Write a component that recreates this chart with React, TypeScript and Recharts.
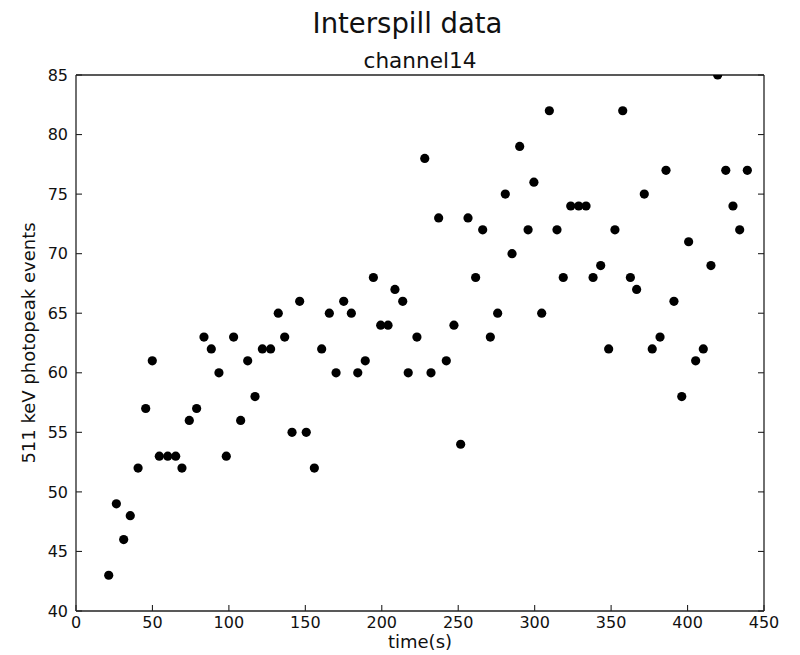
import React from 'react';
import { ScatterChart, Scatter, XAxis, YAxis } from 'recharts';

// Elapsed time of each interspill sample (s)
const timeSeconds = [
  21.4, 26.4, 31.2, 35.5, 40.6, 45.6, 49.9, 54.5, 60.0, 65.2,
  69.3, 74.1, 78.9, 83.7, 88.5, 93.5, 98.3, 103.1, 107.7, 112.3,
  117.1, 121.9, 127.3, 132.3, 136.5, 141.3, 146.3, 150.6, 155.9, 160.7,
  165.7, 170.1, 175.1, 180.1, 184.3, 189.2, 194.5, 199.3, 204.1, 208.6,
  213.7, 217.3, 223.0, 228.1, 232.2, 237.2, 242.2, 247.2, 251.6, 256.4,
  261.4, 266.0, 271.0, 275.8, 280.8, 285.2, 290.2, 295.7, 299.5, 304.6,
  309.6, 314.6, 318.7, 323.6, 328.8, 333.6, 338.2, 343.2, 348.4, 352.5,
  357.6, 362.6, 366.7, 371.7, 376.9, 382.0, 385.9, 391.1, 396.2, 400.7,
  405.3, 410.3, 415.3, 419.7, 425.0, 429.7, 434.1, 439.1,
];

// 511 keV photopeak counts, channel 14
const photopeakEvents = [
  43, 49, 46, 48, 52, 57, 61, 53, 53, 53,
  52, 56, 57, 63, 62, 60, 53, 63, 56, 61,
  58, 62, 62, 65, 63, 55, 66, 55, 52, 62,
  65, 60, 66, 65, 60, 61, 68, 64, 64, 67,
  66, 60, 63, 78, 60, 73, 61, 64, 54, 73,
  68, 72, 63, 65, 75, 70, 79, 72, 76, 65,
  82, 72, 68, 74, 74, 74, 68, 69, 62, 72,
  82, 68, 67, 75, 62, 63, 77, 66, 58, 71,
  61, 62, 69, 85, 77, 74, 72, 77,
];

const xTicks = [0, 50, 100, 150, 200, 250, 300, 350, 400, 450];
const yTicks = [40, 45, 50, 55, 60, 65, 70, 75, 80, 85];

const points = timeSeconds.map((t, i) => ({ t, n: photopeakEvents[i] }));

const FONT = 'DejaVu Sans';
const INK = '#111';
const FRAME = '#222';
const TICK_LEN = 6;
const X_LABEL_GAP = 6;
const Y_LABEL_GAP = 8;

const frameLine = { stroke: FRAME, strokeWidth: 1.3 };

// Inward-pointing tick marks, drawn together with their labels
const BottomTick = (props: any) => {
  const { x, y, payload } = props;
  const axisY = y - X_LABEL_GAP;
  return (
    <g>
      <line x1={x} y1={axisY} x2={x} y2={axisY - TICK_LEN} stroke={FRAME} strokeWidth={1.1} />
      <text x={x} y={y} dy="0.71em" textAnchor="middle" fontSize={16} fontFamily={FONT} fill={INK}>
        {payload.value}
      </text>
    </g>
  );
};

const LeftTick = (props: any) => {
  const { x, y, payload } = props;
  const axisX = x + Y_LABEL_GAP;
  return (
    <g>
      <line x1={axisX} y1={y} x2={axisX + TICK_LEN} y2={y} stroke={FRAME} strokeWidth={1.1} />
      <text x={x} y={y} dy="0.355em" textAnchor="end" fontSize={16} fontFamily={FONT} fill={INK}>
        {payload.value}
      </text>
    </g>
  );
};

const TopTick = (props: any) => (
  <line x1={props.x} y1={props.y} x2={props.x} y2={props.y + TICK_LEN} stroke={FRAME} strokeWidth={1.1} />
);

const RightTick = (props: any) => (
  <line x1={props.x} y1={props.y} x2={props.x - TICK_LEN} y2={props.y} stroke={FRAME} strokeWidth={1.1} />
);

const Dot = (props: any) => (
  <circle cx={props.cx} cy={props.cy} r={4.6} fill="#000" />
);

const SubTitle = (props: any) => {
  const vb = props.viewBox;
  return (
    <text
      x={vb.x + vb.width / 2}
      y={vb.y + vb.height - 7}
      textAnchor="middle"
      fontSize={21.6}
      fontFamily={FONT}
      fill={INK}
    >
      channel14
    </text>
  );
};

const XTitle = (props: any) => {
  const vb = props.viewBox;
  return (
    <text
      x={vb.x + vb.width / 2}
      y={vb.y + 37}
      textAnchor="middle"
      fontSize={18}
      fontFamily={FONT}
      fill={INK}
    >
      time(s)
    </text>
  );
};

const YTitle = (props: any) => {
  const vb = props.viewBox;
  const cx = vb.x + 35;
  const cy = vb.y + vb.height / 2;
  return (
    <text
      x={cx}
      y={cy}
      transform={`rotate(-90, ${cx}, ${cy})`}
      textAnchor="middle"
      fontSize={18}
      fontFamily={FONT}
      fill={INK}
    >
      511 keV photopeak events
    </text>
  );
};

export default function App() {
  return (
    <div style={{ position: 'absolute', left: 0, top: 0, width: 800, height: 655, background: '#fff' }}>
      <div
        style={{
          position: 'absolute',
          left: 0,
          top: 10,
          width: 815,
          textAlign: 'center',
          fontFamily: FONT,
          fontSize: 27.5,
          lineHeight: 1,
          color: INK,
          whiteSpace: 'nowrap',
        }}
      >
        Interspill data
      </div>
      <ScatterChart
        width={800}
        height={655}
        margin={{ top: 0, right: 0, bottom: 0, left: 0 }}
        style={{ fontFamily: FONT }}
      >
        <XAxis
          xAxisId="bottom"
          dataKey="t"
          type="number"
          orientation="bottom"
          domain={[0, 450]}
          ticks={xTicks}
          interval={0}
          allowDataOverflow
          height={44}
          tickSize={0}
          tickMargin={X_LABEL_GAP}
          tick={<BottomTick />}
          tickLine={false}
          axisLine={frameLine}
          label={<XTitle />}
        />
        <XAxis
          xAxisId="top"
          type="number"
          orientation="top"
          domain={[0, 450]}
          ticks={xTicks}
          interval={0}
          allowDataOverflow
          height={75}
          tickSize={0}
          tickMargin={0}
          tick={<TopTick />}
          tickLine={false}
          axisLine={frameLine}
          label={<SubTitle />}
        />
        <YAxis
          yAxisId="left"
          dataKey="n"
          type="number"
          orientation="left"
          domain={[40, 85]}
          ticks={yTicks}
          interval={0}
          allowDataOverflow
          width={76}
          tickSize={0}
          tickMargin={Y_LABEL_GAP}
          tick={<LeftTick />}
          tickLine={false}
          axisLine={frameLine}
          label={<YTitle />}
        />
        <YAxis
          yAxisId="right"
          type="number"
          orientation="right"
          domain={[40, 85]}
          ticks={yTicks}
          interval={0}
          allowDataOverflow
          width={36}
          tickSize={0}
          tickMargin={0}
          tick={<RightTick />}
          tickLine={false}
          axisLine={frameLine}
        />
        <Scatter
          name="channel14"
          data={points}
          xAxisId="bottom"
          yAxisId="left"
          fill="#000"
          shape={<Dot />}
          isAnimationActive={false}
        />
      </ScatterChart>
    </div>
  );
}
